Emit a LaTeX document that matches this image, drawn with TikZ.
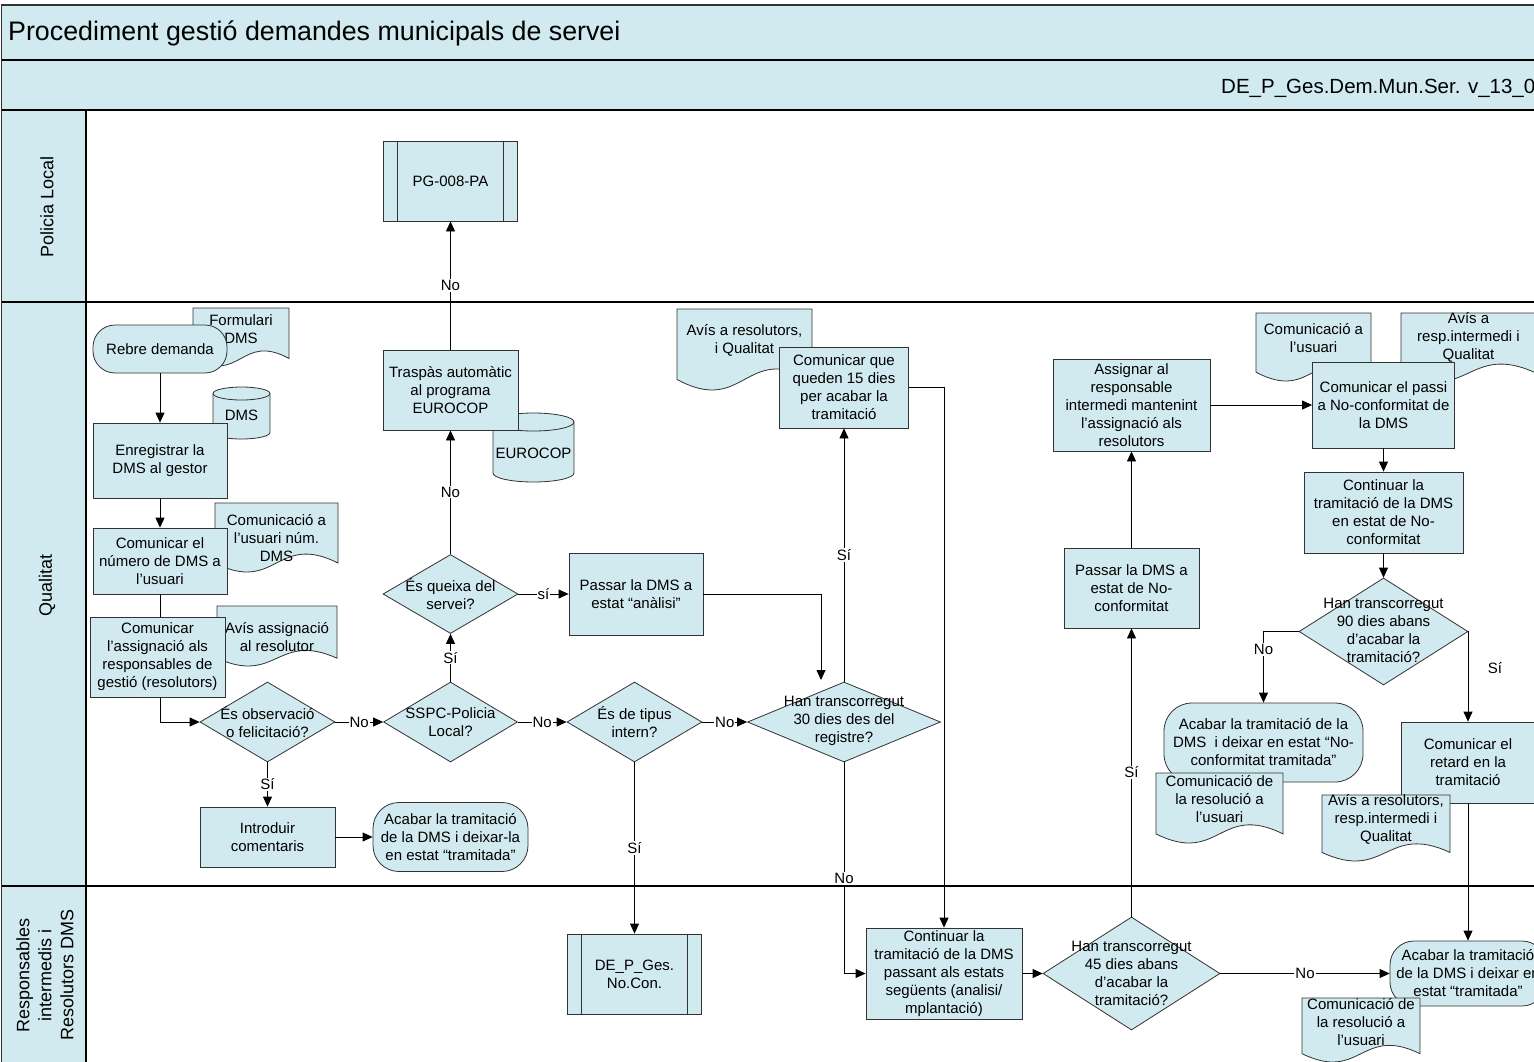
\documentclass[tikz,border=0pt]{standalone}
\usepackage{fontspec}
\setmainfont{Liberation Sans}
\usetikzlibrary{arrows.meta,shapes.geometric}
\definecolor{lb}{RGB}{209,234,240}
\definecolor{ol}{RGB}{50,50,50}

\newcommand\docu[7]{%
  \pgfmathsetmacro\dA{0.13*(#5-#3)}%
  \pgfmathsetmacro\dYb{#5-\dA}%
  \pgfmathsetmacro\dK{\dA/0.289}%
  \pgfmathsetmacro\dXm{(#2+#4)/2}%
  \pgfmathsetmacro\dYu{\dYb-\dK}%
  \pgfmathsetmacro\dYd{\dYb+\dK}%
  \path[docsh] (#2,#3) -- (#4,#3) -- (#4,\dYb) .. controls (\dXm,\dYu) and (\dXm,\dYd) .. (#2,\dYb) -- cycle;
  \node[txt] (#1) at (\dXm,#6) {#7};
}
\newcommand\cyl[8]{%
  \pgfmathsetmacro\cXm{(#2+#4)/2}%
  \pgfmathsetmacro\cRx{(#4-#2)/2}%
  \pgfmathsetmacro\cYt{#3+#6}%
  \pgfmathsetmacro\cYb{#5-#6}%
  \path[docsh] (#2,\cYt) -- (#2,\cYb) arc[start angle=180,end angle=360,x radius=\cRx pt,y radius=#6pt] -- (#4,\cYt) arc[start angle=0,end angle=180,x radius=\cRx pt,y radius=#6pt] -- cycle;
  \draw[ol, line width=0.8pt] (#2,\cYt) arc[start angle=180,end angle=360,x radius=\cRx pt,y radius=#6pt];
  \node[txt] (#1) at (\cXm,#7) {#8};
}

\begin{document}
\begin{tikzpicture}[x=1pt,y=-1pt,
  font=\fontsize{15}{18}\selectfont,
  box/.style={draw=ol, fill=lb, line width=0.8pt, align=center, inner sep=1pt, rectangle},
  term/.style={box},
  subp/.style={box, path picture={\draw[ol,line width=0.8pt]
      ([xshift=14pt]path picture bounding box.north west) -- ([xshift=14pt]path picture bounding box.south west)
      ([xshift=-14pt]path picture bounding box.north east) -- ([xshift=-14pt]path picture bounding box.south east);}},
  dec/.style={draw=ol, fill=lb, line width=0.8pt, diamond, inner sep=0pt},
  docsh/.style={draw=ol, fill=lb, line width=0.8pt},
  txt/.style={align=center, inner sep=0pt},
  arr/.style={draw=black, line width=0.8pt, -{Triangle[length=10pt,width=9pt]}},
  plain/.style={draw=black, line width=0.8pt},
  lbl/.style={fill=white, inner sep=1pt},
  lane/.style={draw=black, line width=1.3pt}
]
\useasboundingbox (0,0) rectangle (1534,1061);
\clip (0,0) rectangle (1534,1061);

% header and lanes
\path[fill=lb] (1.5,5) rectangle (1545,110);
\path[fill=lb] (1.5,110) rectangle (86,1070);
\draw[draw=ol, line width=1.5pt] (1.5,1070) -- (1.5,5) -- (1545,5);
\draw[lane] (1.5,60) -- (1545,60);
\draw[lane] (1.5,110) -- (1545,110);
\draw[lane] (1.5,302) -- (1545,302);
\draw[lane] (1.5,886) -- (1545,886);
\draw[lane] (86,110) -- (86,1070);

\node[anchor=west, inner sep=0pt, font=\fontsize{26.8}{30}\selectfont] (title) at (8,33) {Procediment gestió demandes municipals de servei};
\node[anchor=west, inner sep=0pt, font=\fontsize{20.5}{24}\selectfont] (subtitle) at (1221,88) {DE\_P\_Ges.Dem.Mun.Ser. v\_13\_0};

\node[rotate=90, font=\fontsize{18}{22}\selectfont] (lpol) at (47,207) {Policia Local};
\node[rotate=90, font=\fontsize{18}{22}\selectfont] (lqual) at (47,585) {Qualitat};
\node[rotate=90, align=center, font=\fontsize{18}{22}\selectfont] (lresp) at (45,975) {Responsables\\intermedis i\\Resolutors DMS};

% documents and stores behind boxes
\docu{fdms}{193}{308}{289}{366}{329}{Formulari\\DMS}
\docu{cnum}{215}{503}{338}{572}{538}{Comunicació a\\l’usuari núm.\\DMS}
\docu{avass}{217}{606}{337}{666}{637}{Avís assignació\\al resolutor}
\docu{avres}{677}{309}{812}{390}{340}{Avís a resolutors,\\i Qualitat}
\docu{cusu}{1256}{313}{1371}{381}{338}{Comunicació a\\l’usuari}
\docu{avresp}{1401}{313}{1536}{382}{337}{Avís a\\resp.intermedi i\\Qualitat}
\cyl{dmsc}{213}{387}{270}{439}{6.5}{415}{DMS}
\cyl{euro}{493}{413}{574}{482}{9}{453}{EUROCOP}

% Policia Local
\node[subp, minimum width=134, minimum height=80] (pg) at (450.5,181) {PG-008-PA};

% Qualitat
\node[box, minimum width=135, minimum height=80] (trasp) at (450.5,390) {Traspàs automàtic\\al programa\\EUROCOP};
\node[term, minimum width=134, minimum height=48, rounded corners=22pt] (rebre) at (160,349) {Rebre demanda};
\node[box, minimum width=134, minimum height=75] (enreg) at (160,460.5) {Enregistrar la\\DMS al gestor};
\node[box, minimum width=134, minimum height=66] (comnum) at (160,561) {Comunicar el\\número de DMS a\\l’usuari};
\node[box, minimum width=135, minimum height=80] (comassig) at (157.5,657) {Comunicar\\l’assignació als\\responsables de\\gestió (resolutors)};
\node[dec, minimum width=135, minimum height=80] (dobs) at (267.5,722) {};
\node[txt] (dobst) at (267.5,722) {És observació\\o felicitació?};
\node[box, minimum width=135, minimum height=60] (intro) at (267.5,837) {Introduir\\comentaris};
\node[term, minimum width=155, minimum height=69, rounded corners=26pt] (acab1) at (450.5,837) {Acabar la tramitació\\de la DMS i deixar-la\\en estat “tramitada”};
\node[dec, minimum width=134, minimum height=80] (dsspc) at (450.5,722) {};
\node[txt] (dsspct) at (450.5,722) {SSPC-Policia\\Local?};
\node[dec, minimum width=135, minimum height=79] (dqueixa) at (450.5,594) {};
\node[txt] (dqueixat) at (450.5,594) {És queixa del\\servei?};
\node[box, minimum width=134, minimum height=82] (passan) at (636,594) {Passar la DMS a\\estat “anàlisi”};
\node[dec, minimum width=135, minimum height=80] (dint) at (634.5,722) {};
\node[txt] (dintt) at (634.5,722) {És de tipus\\intern?};
\node[dec, minimum width=193, minimum height=80] (d30) at (844,722) {};
\node[txt] (d30t) at (844,721) {Han transcorregut\\30 dies des del\\registre?};
\node[box, minimum width=129, minimum height=81] (com15) at (844,387.5) {Comunicar que\\queden 15 dies\\per acabar la\\tramitació};
\node[box, minimum width=157, minimum height=92] (assig) at (1131.5,405) {Assignar al\\responsable\\intermedi mantenint\\l’assignació als\\resolutors};
\node[box, minimum width=135, minimum height=80] (pnc) at (1131.5,588) {Passar la DMS a\\estat de No-\\conformitat};
\node[box, minimum width=142, minimum height=86] (compassi) at (1383.5,405) {Comunicar el passi\\a No-conformitat de\\la DMS};
\node[box, minimum width=159, minimum height=81] (contnc) at (1383.5,512.5) {Continuar la\\tramitació de la DMS\\en estat de No-\\conformitat};
\node[dec, minimum width=169, minimum height=107] (d90) at (1383.5,631.5) {};
\node[txt] (d90t) at (1383.5,630.5) {Han transcorregut\\90 dies abans\\d’acabar la\\tramitació?};
\node[term, minimum width=199, minimum height=79, rounded corners=28pt] (tnc) at (1263.5,742.5) {Acabar la tramitació de la\\DMS\ \ i deixar en estat “No-\\conformitat tramitada”};
\node[box, minimum width=134, minimum height=81] (retard) at (1468,762.5) {Comunicar el\\retard en la\\tramitació};

% Responsables
\node[subp, minimum width=134, minimum height=80] (dep) at (634.5,974) {DE\_P\_Ges.\\No.Con.};
\node[box, minimum width=156, minimum height=91] (cont) at (944,973.5) {Continuar la\\tramitació de la DMS\\passant als estats\\següents (analisi/\\mplantació)};
\node[dec, minimum width=177, minimum height=113] (d45) at (1131.5,973.5) {};
\node[txt] (d45t) at (1131.5,973) {Han transcorregut\\45 dies abans\\d’acabar la\\tramitació?};
\node[term, minimum width=156, minimum height=65, rounded corners=24pt] (t4) at (1468,973.5) {Acabar la tramitació\\de la DMS i deixar en\\estat “tramitada”};

% documents on top
\docu{cres1}{1156}{773}{1283}{843}{799}{Comunicació de\\la resolució a\\l’usuari}
\docu{avres2}{1322}{795}{1450}{861}{819}{Avís a resolutors,\\resp.intermedi i\\Qualitat}
\docu{cres2}{1302}{998}{1420}{1062}{1022}{Comunicació de\\la resolució a\\l’usuari}

% connectors
\coordinate (c30in) at (821,680);
\draw[arr] (rebre) -- (enreg);
\draw[arr] (enreg) -- (comnum);
\draw[plain] (comnum.south) -- (comnum.south |- comassig.north);
\draw[arr] (comnum.south |- comassig.south) |- (dobs.west);
\draw[arr] (dobs.east) -- node[lbl] (l1) {No} (dsspc.west);
\draw[arr] (dobs.south) -- node[lbl] (l2) {Sí} (intro.north);
\draw[arr] (intro.east) -- (acab1.west);
\draw[arr] (dsspc.east) -- node[lbl] (l3) {No} (dint.west);
\draw[arr] (dsspc.north) -- node[lbl] (l4) {Sí} (dqueixa.south);
\draw[arr] (dqueixa.east) -- node[lbl] (l5) {sí} (passan.west);
\draw[arr] (dqueixa.north) -- node[lbl] (l6) {No} (trasp.south);
\draw[arr] (trasp.north) -- node[lbl] (l7) {No} (pg.south);
\draw[arr] (passan.east) -| (c30in);
\draw[arr] (dint.east) -- node[lbl] (l8) {No} (d30.west);
\draw[arr] (dint.south) -- node[lbl] (l9) {Sí} (dep.north);
\draw[arr] (d30.north) -- node[lbl] (l10) {Sí} (com15.south);
\draw[arr] (d30.south) |- node[lbl, pos=0.275] (l11) {No} (cont.west);
\draw[arr] (com15.east) -| (cont.north);
\draw[arr] (cont.east) -- (d45.west);
\draw[arr] (d45.north) -- node[lbl] (l12) {Sí} (pnc.south);
\draw[arr] (pnc.north) -- (assig.south);
\draw[arr] (assig.east) -- (compassi.west);
\draw[arr] (compassi.south) -- (contnc.north);
\draw[arr] (contnc.south) -- (d90.north);
\draw[arr] (d90.west) -| node[lbl, pos=0.625] (l13) {No} (tnc.north);
\draw[arr] (d90.east) -| (retard.north);
\node (l14) at (1495,668) {Sí};
\draw[arr] (retard.south) -- (t4.north);
\draw[arr] (d45.east) -- node[lbl] (l15) {No} (t4.west);
\end{tikzpicture}
\end{document}
